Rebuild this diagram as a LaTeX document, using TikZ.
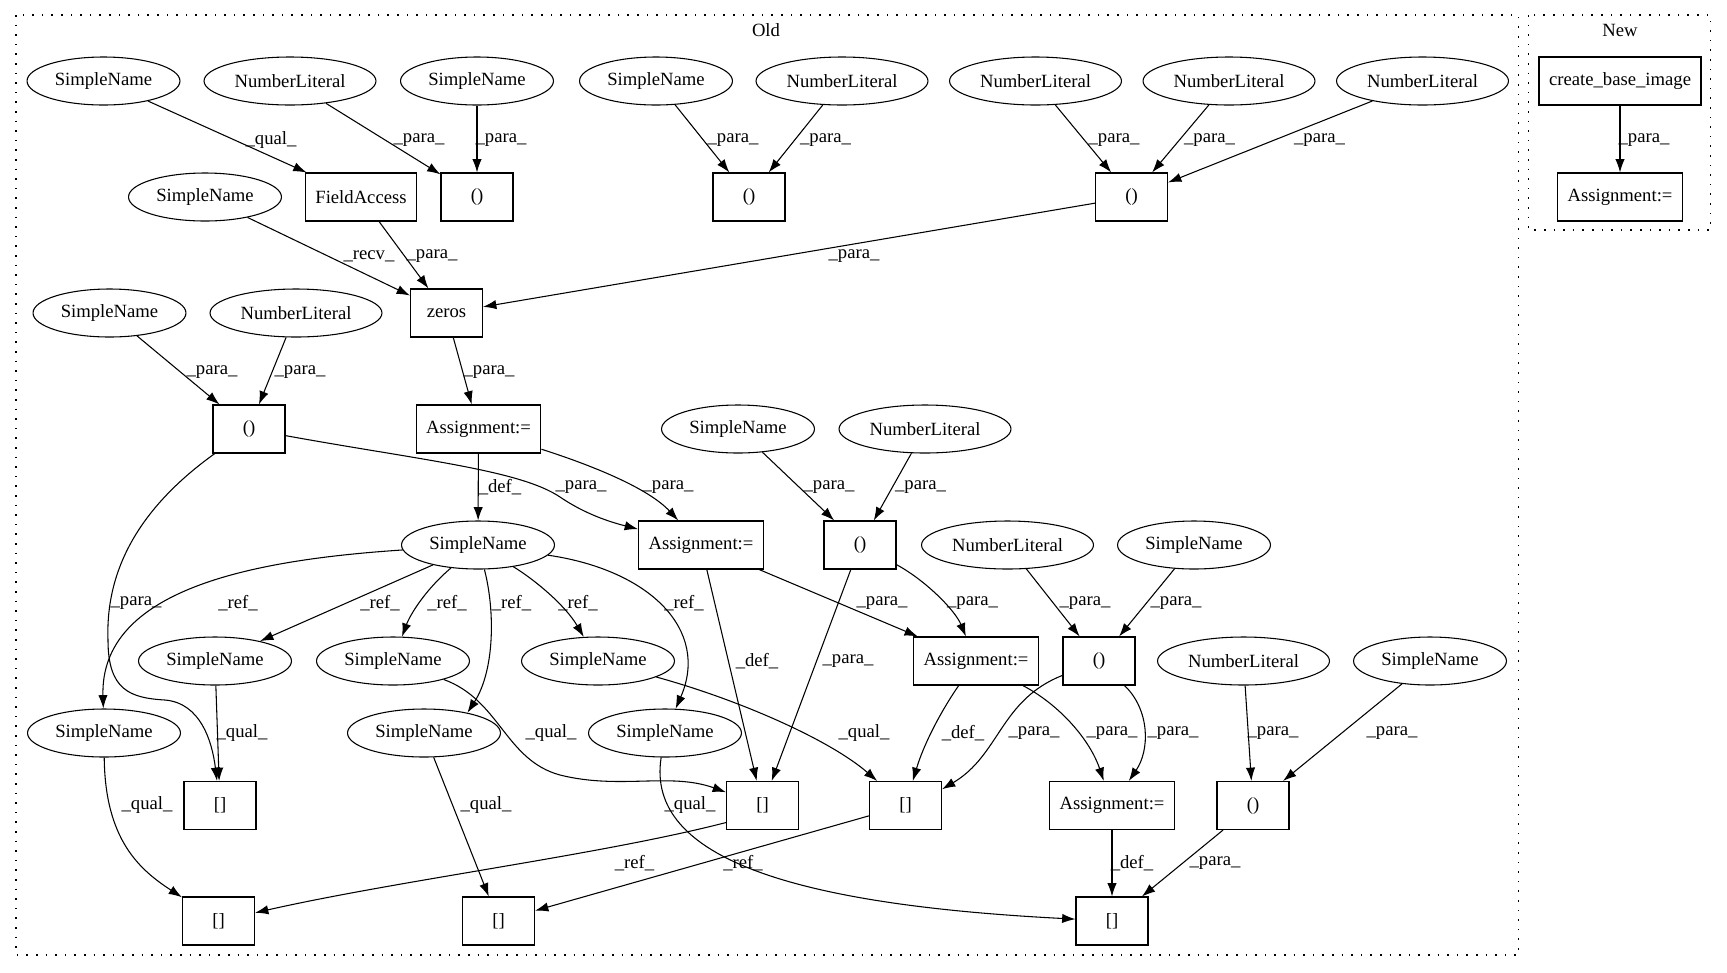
\documentclass[tikz,border=0pt]{standalone}
\usepackage{fontspec}
\setmainfont{Liberation Serif}
\usetikzlibrary{arrows.meta,shapes.geometric}

\begin{document}
\begin{tikzpicture}[x=0.75pt,y=-0.75pt,font=\fontsize{14}{16}\selectfont,
  ell/.style={draw,ellipse,line width=0.8pt,minimum height=36pt,inner xsep=4pt,inner ysep=0pt},
  box/.style={draw,rectangle,line width=0.8pt,minimum width=54pt,minimum height=36pt,inner xsep=7.5pt},
  ar/.style={-{Latex[length=10pt,width=7pt]},line width=0.8pt},
  lbl/.style={inner sep=0pt},
  clus/.style={line width=0.8pt,dash pattern=on 1.2pt off 6pt}]
\useasboundingbox (0,0) rectangle (1727,972);

\draw[clus] (16,15) rectangle (1518.5,955);
\node[lbl] (old) at (766,30) {Old};
\draw[clus] (1528.5,15) rectangle (1710.5,230);
\node[lbl] (new) at (1620,30) {New};

\node[ell] (sA) at (103.5,81) {SimpleName};
\node[ell] (nA) at (290,81) {NumberLiteral};
\node[ell] (sB) at (477,81) {SimpleName};
\node[ell] (sC) at (656,81) {SimpleName};
\node[ell] (nB) at (842,81) {NumberLiteral};
\node[ell] (nC) at (1035.5,81) {NumberLiteral};
\node[ell] (nD) at (1229,81) {NumberLiteral};
\node[ell] (nE) at (1422.5,81) {NumberLiteral};
\node[box] (cbi) at (1620,81) {create\_base\_image};

\node[ell] (sD) at (205,197) {SimpleName};
\node[box] (fa) at (361,197) {FieldAccess};
\node[box] (pA) at (477,197) {()};
\node[box] (pB) at (749,197) {()};
\node[box] (pC) at (1131.5,197) {()};
\node[box] (asN) at (1620,197) {Assignment:=};

\node[ell] (sE) at (109.5,313) {SimpleName};
\node[ell] (nF) at (296,313) {NumberLiteral};
\node[box] (zr) at (446.5,313) {zeros};

\node[box] (pD) at (249,429) {()};
\node[box] (asA) at (478.5,429) {Assignment:=};
\node[ell] (sF) at (738,429) {SimpleName};
\node[ell] (nG) at (925,429) {NumberLiteral};

\node[ell] (sv) at (478,545) {SimpleName};
\node[box] (asB) at (701,545) {Assignment:=};
\node[box] (pE) at (860,545) {()};
\node[ell] (nH) at (1007.5,545) {NumberLiteral};
\node[ell] (sG) at (1194,545) {SimpleName};

\node[ell] (r1) at (215,661) {SimpleName};
\node[ell] (r2) at (393,661) {SimpleName};
\node[ell] (r3) at (598,661) {SimpleName};
\node[box] (asC) at (976,661) {Assignment:=};
\node[box] (pF) at (1099,661) {()};
\node[ell] (nI) at (1243.5,661) {NumberLiteral};
\node[ell] (sH) at (1430,661) {SimpleName};

\node[ell] (r4) at (104,733) {SimpleName};
\node[ell] (r5) at (424,733) {SimpleName};
\node[ell] (r6) at (665,733) {SimpleName};

\node[box] (bA) at (220,805.5) {[]};
\node[box] (bB) at (762.5,805.5) {[]};
\node[box] (bC) at (905.5,805.5) {[]};
\node[box] (asD) at (1112,805.5) {Assignment:=};
\node[box] (pG) at (1253,805.5) {()};

\node[box] (bD) at (218.5,921) {[]};
\node[box] (bE) at (498.5,921) {[]};
\node[box] (bF) at (1112,921) {[]};

\draw[ar] (sA) -- (fa) node[lbl] at (271,140) {\_qual\_};
\draw[ar] (nA) -- (pA) node[lbl] at (419,140) {\_para\_};
\draw[ar] (sB) -- (pA) node[lbl] at (501,140) {\_para\_};
\draw[ar] (sC) -- (pB) node[lbl] at (733,140) {\_para\_};
\draw[ar] (nB) -- (pB) node[lbl] at (825.5,140) {\_para\_};
\draw[ar] (nC) -- (pC) node[lbl] at (1114,140) {\_para\_};
\draw[ar] (nD) -- (pC) node[lbl] at (1209.5,140) {\_para\_};
\draw[ar] (nE) -- (pC) node[lbl] at (1319.5,140) {\_para\_};
\draw[ar] (cbi) -- (asN) node[lbl] at (1644,140) {\_para\_};

\draw[ar] (sD) -- (zr) node[lbl] at (369,256) {\_recv\_};
\draw[ar] (fa) -- (zr) node[lbl] at (432,256) {\_para\_};
\draw[ar] (pC) -- (zr) node[lbl] at (854,256) {\_para\_};

\draw[ar] (sE) -- (pD) node[lbl] at (212,372) {\_para\_};
\draw[ar] (nF) -- (pD) node[lbl] at (300,372) {\_para\_};
\draw[ar] (zr) -- (asA) node[lbl] at (489,372) {\_para\_};

\draw[ar] (asA) -- (sv) node[lbl] at (500,487) {\_def\_};
\draw[ar] (pD) .. controls (420,460) and (520,470) .. (560,497) .. controls (585,514) and (610,522) .. (asB) node[lbl] at (581,487) {\_para\_};
\draw[ar] (asA) .. controls (600,468) and (650,490) .. (asB) node[lbl] at (668,487) {\_para\_};
\draw[ar] (sF) -- (pE) node[lbl] at (829,487) {\_para\_};
\draw[ar] (nG) -- (pE) node[lbl] at (920.5,487) {\_para\_};

\draw[ar] (pD) .. controls (150,500) and (105,560) .. (108,640) .. controls (108,690) and (130,698) .. (165,700) .. controls (200,703) and (212,740) .. (bA) node[lbl] at (136,603) {\_para\_};
\draw[ar] (sv) .. controls (250,560) and (100,590) .. (r4) node[lbl] at (238,603) {\_ref\_};
\draw[ar] (sv) -- (r1) node[lbl] at (380,603) {\_ref\_};
\draw[ar] (sv) .. controls (425,590) and (410,615) .. (r2) node[lbl] at (447,603) {\_ref\_};
\draw[ar] (sv) .. controls (495,610) and (495,670) .. (r5.25) node[lbl] at (511.5,603) {\_ref\_};
\draw[ar] (sv) .. controls (535,580) and (565,605) .. (r3) node[lbl] at (578,603) {\_ref\_};
\draw[ar] (sv) .. controls (650,570) and (710,630) .. (r6) node[lbl] at (684,603) {\_ref\_};

\draw[ar] (asB) -- (bB) node[lbl] at (757,661) {\_def\_};
\draw[ar] (asB) -- (asC) node[lbl] at (882,603) {\_para\_};
\draw[ar] (pE) -- (bB) node[lbl] at (848,661) {\_para\_};
\draw[ar] (pE) .. controls (925,580) and (955,610) .. (asC) node[lbl] at (972.5,603) {\_para\_};
\draw[ar] (nH) -- (pF) node[lbl] at (1085,603) {\_para\_};
\draw[ar] (sG) -- (pF) node[lbl] at (1176,603) {\_para\_};

\draw[ar] (r1) -- (bA) node[lbl] at (242,733) {\_qual\_};
\draw[ar] (r2) .. controls (500,700) and (505,760) .. (560,775) .. controls (620,790) and (670,772) .. (bB.160) node[lbl] at (551,733) {\_qual\_};
\draw[ar] (r3) .. controls (740,700) and (830,740) .. (bC) node[lbl] at (864,733) {\_qual\_};
\draw[ar] (asC) .. controls (945,705) and (925,740) .. (bC) node[lbl] at (963,733) {\_def\_};
\draw[ar] (pF) .. controls (1000,700) and (1000,755) .. (bC.24) node[lbl] at (1034,733) {\_para\_};
\draw[ar] (asC) .. controls (1060,705) and (1090,740) .. (asD) node[lbl] at (1112,733) {\_para\_};
\draw[ar] (pF) .. controls (1150,710) and (1150,750) .. (asD) node[lbl] at (1173,733) {\_para\_};
\draw[ar] (nI) -- (pG) node[lbl] at (1273,733) {\_para\_};
\draw[ar] (sH) -- (pG) node[lbl] at (1392,733) {\_para\_};

\draw[ar] (r4) .. controls (105,840) and (140,870) .. (bD) node[lbl] at (147,805) {\_qual\_};
\draw[ar] (r5) -- (bE) node[lbl] at (486,805) {\_qual\_};
\draw[ar] (r6) .. controls (645,860) and (800,905) .. (bF) node[lbl] at (690,805) {\_qual\_};
\draw[ar] (bB.205) .. controls (600,855) and (400,880) .. (bD) node[lbl] at (634.5,863) {\_ref\_};
\draw[ar] (bC) -- (bE) node[lbl] at (743,863) {\_ref\_};
\draw[ar] (asD) -- (bF) node[lbl] at (1132,863) {\_def\_};
\draw[ar] (pG) -- (bF) node[lbl] at (1215,863) {\_para\_};
\end{tikzpicture}
\end{document}
